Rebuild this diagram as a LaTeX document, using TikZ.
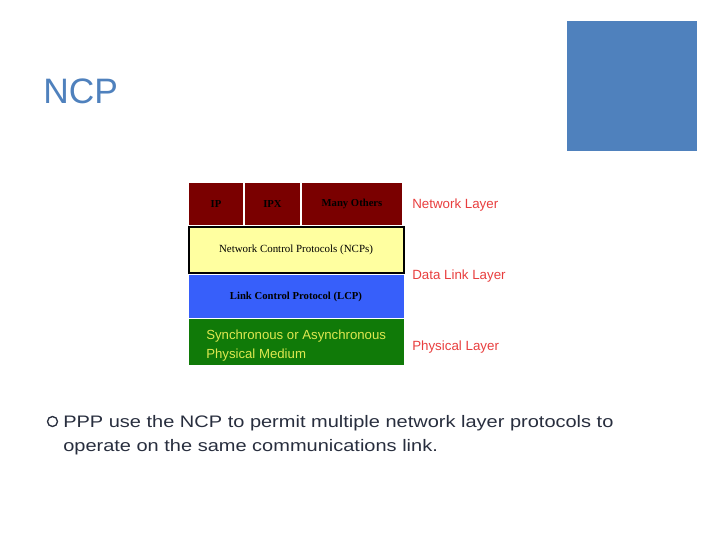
\documentclass[tikz,border=0pt]{standalone}
\usepackage{fontspec}
\setmainfont{Liberation Sans}
\newfontfamily\boxfont{Liberation Serif}
\newfontfamily\bodyfont[FakeStretch=1.2]{Liberation Sans}
\usetikzlibrary{positioning}
\definecolor{slideblue}{RGB}{79,129,189}
\definecolor{netred}{RGB}{122,0,0}
\definecolor{ncpyellow}{RGB}{255,255,160}
\definecolor{lcpblue}{RGB}{55,95,250}
\definecolor{phygreen}{RGB}{16,122,8}
\definecolor{phytext}{RGB}{222,232,80}
\definecolor{labelred}{RGB}{232,62,62}
\definecolor{bodytext}{RGB}{40,46,62}
\tikzset{
  cell/.style={inner sep=0pt, minimum height=44*0.75pt, draw=white, line width=1pt,
    font=\boxfont\bfseries\fontsize{8}{9}\selectfont},
  band/.style={inner sep=0pt, minimum width=215*0.75pt},
  layername/.style={anchor=west, inner sep=0pt, text=labelred, font=\fontsize{10}{12}\selectfont}
}
\begin{document}
\begin{tikzpicture}[x=0.75pt,y=-0.75pt]
\useasboundingbox (0,0) rectangle (720,540);
\fill[slideblue] (567,21) rectangle (697,151);
\node[anchor=base west, inner sep=0pt, text=slideblue, font=\fontsize{26.5}{30}\selectfont] (title) at (43,103) {NCP};
\node[cell, fill=netred, minimum width=56*0.75pt] (ip) at (216,204) {\raisebox{-1.5pt}{IP}};
\node[cell, fill=netred, minimum width=56*0.75pt] (ipx) at (272.5,204) {\raisebox{-1.5pt}{IPX}};
\node[cell, fill=netred, minimum width=102*0.75pt] (others) at (352,204) {\raisebox{-1.5pt}{Many Others}};
\node[band, fill=ncpyellow, draw=black, line width=1.5pt, minimum height=46*0.75pt,
  font=\boxfont\fontsize{8.2}{9}\selectfont] (ncp) at (296,250) {\raisebox{-1.5pt}{Network Control Protocols (NCPs)}};
\node[band, fill=lcpblue, minimum height=43*0.75pt,
  font=\boxfont\bfseries\fontsize{8}{9}\selectfont] (lcp) at (296,296.5) {Link Control Protocol (LCP)};
\node[band, fill=phygreen, minimum height=46*0.75pt] (phy) at (296,342) {};
\node[anchor=west, inner sep=0pt, align=left, text=phytext, font=\fontsize{9.9}{14.25}\selectfont]
  (medium) at (206,346) {Synchronous or Asynchronous\\Physical Medium};
\node[layername] (netlayer) at (412,205) {Network Layer};
\node[layername] (dllayer) at (412,276) {Data Link Layer};
\node[layername] (phylayer) at (412,347) {Physical Layer};
\node[circle, draw=bodytext, line width=1pt, inner sep=0pt, minimum size=10*0.75pt] (bullet) at (52.5,421.5) {};
\node[anchor=base west, inner sep=0pt, align=left, text=bodytext, font=\bodyfont\fontsize{12.5}{18}\selectfont]
  (point) at (63,451) {PPP use the NCP to permit multiple network layer protocols to\\operate on the same communications link.};
\end{tikzpicture}
\end{document}
